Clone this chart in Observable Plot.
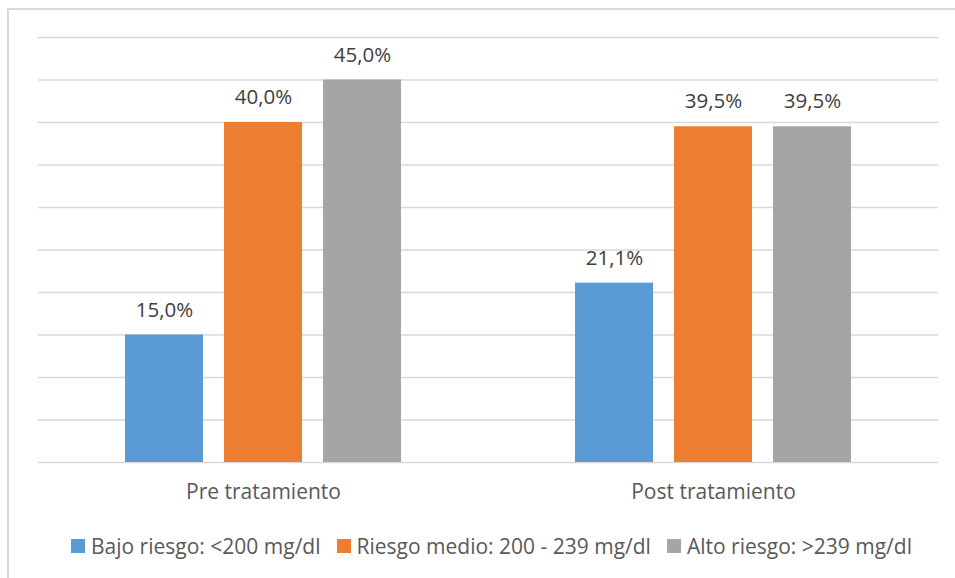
<!DOCTYPE html>
<html>
<head>
<meta charset="utf-8">
<script src="https://cdn.jsdelivr.net/npm/d3@7"></script>
<script src="https://cdn.jsdelivr.net/npm/@observablehq/plot@0.6"></script>
<style>
  html, body { margin: 0; padding: 0; background: #fff; }
  #chart { position: relative; width: 955px; height: 578px; overflow: hidden; background: #fff; }
  #frame { position: absolute; left: 7px; top: 8px; width: 1100px; height: 700px;
           border-left: 2px solid #d9d9d9; border-top: 2px solid #d9d9d9; box-sizing: border-box; }
  #plot { position: absolute; left: 0; top: 0; }
  #legend { position: absolute; left: 71px; top: 529px; }
  div.lg-swatches .lg-swatch { margin-right: 16px; }
  div.lg-swatches .lg-swatch > svg { margin-right: 6px; }
</style>
</head>
<body>
<div id="chart">
  <div id="frame"></div>
  <div id="plot"></div>
  <div id="legend"></div>
</div>
<script>
// Cholesterol risk categories before and after treatment (% of patients)
const groups = ["Pre tratamiento", "Post tratamiento"];
const series = ["Bajo riesgo: <200 mg/dl", "Riesgo medio: 200 - 239 mg/dl", "Alto riesgo: >239 mg/dl"];
const preValues = [15.0, 40.0, 45.0];
const postValues = [21.1, 39.5, 39.5];
const colors = ["#5B9BD5", "#ED7D31", "#A5A5A5"];
const yTicks = [0, 5, 10, 15, 20, 25, 30, 35, 40, 45, 50];

const data = [
  ...series.map((s, i) => ({group: groups[0], series: s, value: preValues[i]})),
  ...series.map((s, i) => ({group: groups[1], series: s, value: postValues[i]}))
];

const fmt = v => v.toFixed(1).replace(".", ",") + "%";
const font = "'Open Sans', 'Noto Sans', sans-serif";

const chart = Plot.plot({
  width: 955,
  height: 578,
  marginLeft: 37,
  marginRight: 17,
  marginTop: 37,
  marginBottom: 116,
  style: {fontFamily: font, fontSize: "21px", color: "#595959", background: "transparent"},
  fx: {domain: groups, padding: 0, label: null, tickSize: 0, tickPadding: 22},
  x: {domain: series, paddingInner: 0.21, paddingOuter: 0.8575, axis: null},
  y: {domain: [0, 50], axis: null},
  color: {domain: series, range: colors},
  marks: [
    Plot.ruleY(yTicks, {stroke: "#d9d9d9", strokeWidth: 1.4}),
    Plot.barY(data, {fx: "group", x: "series", y: "value", fill: "series"}),
    Plot.text(data, {fx: "group", x: "series", y: "value", text: d => fmt(d.value), dy: -25, fontSize: 20.5, fill: "#404040"})
  ]
});
document.getElementById("plot").appendChild(chart);

const legend = Plot.legend({
  color: {domain: series, range: colors},
  legend: "swatches",
  swatchSize: 14,
  className: "lg",
  style: {fontFamily: font, fontSize: "21px", color: "#595959"}
});
document.getElementById("legend").appendChild(legend);
</script>
</body>
</html>
